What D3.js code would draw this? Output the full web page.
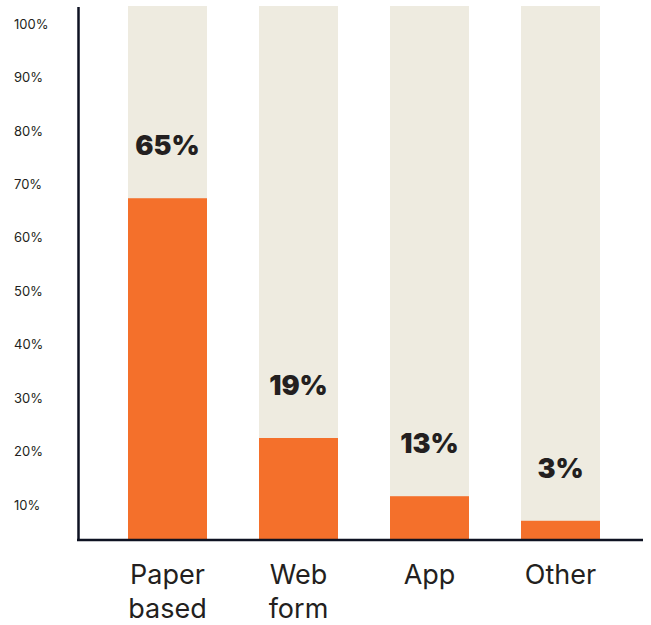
<!DOCTYPE html>
<html>
<head>
<meta charset="utf-8">
<script src="https://cdn.jsdelivr.net/npm/d3@7/dist/d3.min.js"></script>
<style>
  html, body { margin: 0; padding: 0; background: #ffffff; }
  svg { display: block; }
</style>
</head>
<body>
<svg id="chart" width="651" height="625"></svg>
<script>
const categories = [["Paper", "based"], ["Web", "form"], ["App"], ["Other"]];
const shares = [64, 19.1, 8.2, 3.6];
const valueLabels = ["65%", "19%", "13%", "3%"];
const tickValues = [10, 20, 30, 40, 50, 60, 70, 80, 90, 100];
const tickLabels = ["10%", "20%", "30%", "40%", "50%", "60%", "70%", "80%", "90%", "100%"];

const svg = d3.select("#chart");
const ORANGE = "#F4702B";
const BEIGE = "#EEEBE0";
const INK = "#231F20";
const AXIS = "#0E1222";

const keys = categories.map(c => c.join(" "));
const x = d3.scaleBand().domain(keys).range([102, 626]).paddingInner(0.397).paddingOuter(0.1985);
const y = d3.scaleLinear().domain([0, 100]).range([540, 6]);
const yTick = d3.scaleLinear().domain([10, 100]).range([505, 24]);

// background (100%) bars
svg.append("g").selectAll("rect").data(keys).join("rect")
  .attr("x", d => x(d)).attr("width", x.bandwidth())
  .attr("y", y(100)).attr("height", y(0) - y(100))
  .attr("fill", BEIGE);

// value bars
svg.append("g").selectAll("rect").data(shares).join("rect")
  .attr("x", (d, i) => x(keys[i])).attr("width", x.bandwidth())
  .attr("y", d => y(d)).attr("height", d => y(0) - y(d))
  .attr("fill", ORANGE);

// value labels
svg.append("g").selectAll("text").data(shares).join("text")
  .attr("x", (d, i) => x(keys[i]) + x.bandwidth() / 2)
  .attr("y", d => y(d) - 43)
  .attr("text-anchor", "middle")
  .attr("font-family", "Inter, Roboto, sans-serif")
  .attr("font-weight", 900)
  .attr("font-size", 27)
  .attr("fill", INK)
  .text((d, i) => valueLabels[i]);

// y tick labels
svg.append("g").selectAll("text").data(tickValues).join("text")
  .attr("x", 14)
  .attr("y", d => yTick(d))
  .attr("dy", "0.36em")
  .attr("font-family", "Inter, Roboto, sans-serif")
  .attr("font-size", 13)
  .attr("fill", INK)
  .text((d, i) => tickLabels[i]);

// axes lines
svg.append("line").attr("x1", 78.5).attr("x2", 78.5).attr("y1", 7).attr("y2", 541)
  .attr("stroke", AXIS).attr("stroke-width", 2.5);
svg.append("line").attr("x1", 77).attr("x2", 643).attr("y1", 540).attr("y2", 540)
  .attr("stroke", AXIS).attr("stroke-width", 2.5);

// category labels
const cat = svg.append("g").selectAll("text").data(categories).join("text")
  .attr("text-anchor", "middle")
  .attr("font-family", "Inter, Roboto, sans-serif")
  .attr("font-size", 27)
  .attr("fill", INK)
  .attr("x", (d, i) => x(keys[i]) + x.bandwidth() / 2)
  .attr("y", 584);
cat.selectAll("tspan").data(d => d).join("tspan")
  .attr("x", function() { return this.parentNode.getAttribute("x"); })
  .attr("dy", (d, i) => i === 0 ? 0 : 34)
  .text(d => d);
</script>
</body>
</html>
